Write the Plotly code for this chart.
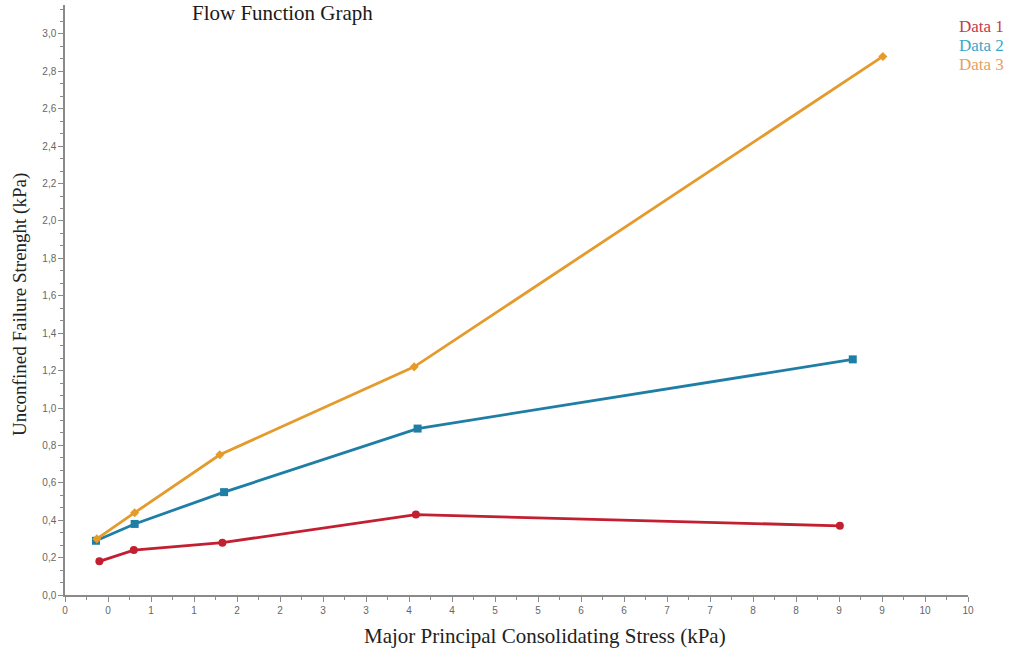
import plotly.graph_objects as go

# Flow function measurements (major principal consolidating stress vs unconfined failure strength, kPa)
series_names = ["Data 1", "Data 2", "Data 3"]
series_colors = ["#c21f30", "#1f7ea6", "#e59a2c"]
label_colors = ["#c43a4b", "#3aa6c8", "#e8a062"]
series_symbols = ["circle", "square", "diamond"]

data1_x = [0.40, 0.80, 1.83, 4.08, 9.01]
data1_y = [0.18, 0.24, 0.28, 0.43, 0.37]

data2_x = [0.36, 0.81, 1.85, 4.10, 9.16]
data2_y = [0.29, 0.38, 0.55, 0.89, 1.26]

data3_x = [0.37, 0.81, 1.80, 4.06, 9.51]
data3_y = [0.30, 0.44, 0.75, 1.22, 2.88]

x_tick_values = [i * 0.5 for i in range(22)]
x_tick_labels = ["0", "0", "1", "1", "2", "2", "3", "3", "4", "4", "5", "5",
                 "6", "6", "7", "7", "8", "8", "9", "9", "10", "10"]

y_tick_values = [round(i * 0.2, 1) for i in range(16)]
y_tick_labels = ["0,0", "0,2", "0,4", "0,6", "0,8", "1,0", "1,2", "1,4",
                 "1,6", "1,8", "2,0", "2,2", "2,4", "2,6", "2,8", "3,0"]

xs = [data1_x, data2_x, data3_x]
ys = [data1_y, data2_y, data3_y]
marker_sizes = [8, 8, 7]

fig = go.Figure()
for name, x, y, color, symbol, size in zip(series_names, xs, ys, series_colors,
                                           series_symbols, marker_sizes):
    fig.add_trace(go.Scatter(
        x=x, y=y, name=name, mode="lines+markers",
        line=dict(color=color, width=2.8),
        marker=dict(color=color, symbol=symbol, size=size),
        showlegend=False,
    ))

serif = "Liberation Serif, Times New Roman, serif"
sans = "Liberation Sans, Arial, sans-serif"

fig.update_layout(
    width=1015, height=657,
    margin=dict(l=65, r=47, t=5, b=62),
    paper_bgcolor="white", plot_bgcolor="white",
    font=dict(family=sans, color="#666"),
)

fig.update_xaxes(
    range=[0, 10.5], showgrid=False, zeroline=False,
    showline=True, linecolor="#8a8a8a", linewidth=1.5,
    tickmode="array", tickvals=x_tick_values, ticktext=x_tick_labels,
    ticks="outside", ticklen=5, tickcolor="#8a8a8a", tickwidth=1,
    tickfont=dict(family=sans, size=10, color="#666"),
    minor=dict(dtick=0.25, tick0=0, ticks="outside", ticklen=3,
               tickcolor="#8a8a8a", showgrid=False),
)

fig.update_yaxes(
    range=[0, 3.155], showgrid=False, zeroline=False,
    showline=True, linecolor="#8a8a8a", linewidth=1.5,
    tickmode="array", tickvals=y_tick_values, ticktext=y_tick_labels,
    ticks="outside", ticklen=5, tickcolor="#8a8a8a", tickwidth=1,
    tickfont=dict(family=sans, size=10, color="#666"),
    minor=dict(dtick=0.2 / 3, tick0=0, ticks="outside", ticklen=3,
               tickcolor="#8a8a8a", showgrid=False),
)

# Chart title and axis titles
fig.add_annotation(text="Flow Function Graph", xref="paper", yref="paper",
                   x=0.241, y=0.986, xanchor="center", yanchor="middle",
                   showarrow=False, font=dict(family=serif, size=21, color="#1a1a1a"))
fig.add_annotation(text="Major Principal Consolidating Stress (kPa)",
                   xref="paper", yref="paper", x=0.5316, y=-0.0695,
                   xanchor="center", yanchor="middle", showarrow=False,
                   font=dict(family=serif, size=21, color="#222"))
fig.add_annotation(text="Unconfined Failure Strenght (kPa)",
                   xref="paper", yref="paper", x=-0.0498, y=0.4915,
                   xanchor="center", yanchor="middle", textangle=-90,
                   showarrow=False, font=dict(family=serif, size=19, color="#222"))

# Text-only legend in the upper right corner
legend_y = [0.963, 0.931, 0.899]
for name, color, ly in zip(series_names, label_colors, legend_y):
    fig.add_annotation(text=name, xref="paper", yref="paper", x=1.041, y=ly,
                       xanchor="right", yanchor="middle", showarrow=False,
                       borderpad=0,
                       font=dict(family=serif, size=17, color=color))

fig.write_html("out.html")
